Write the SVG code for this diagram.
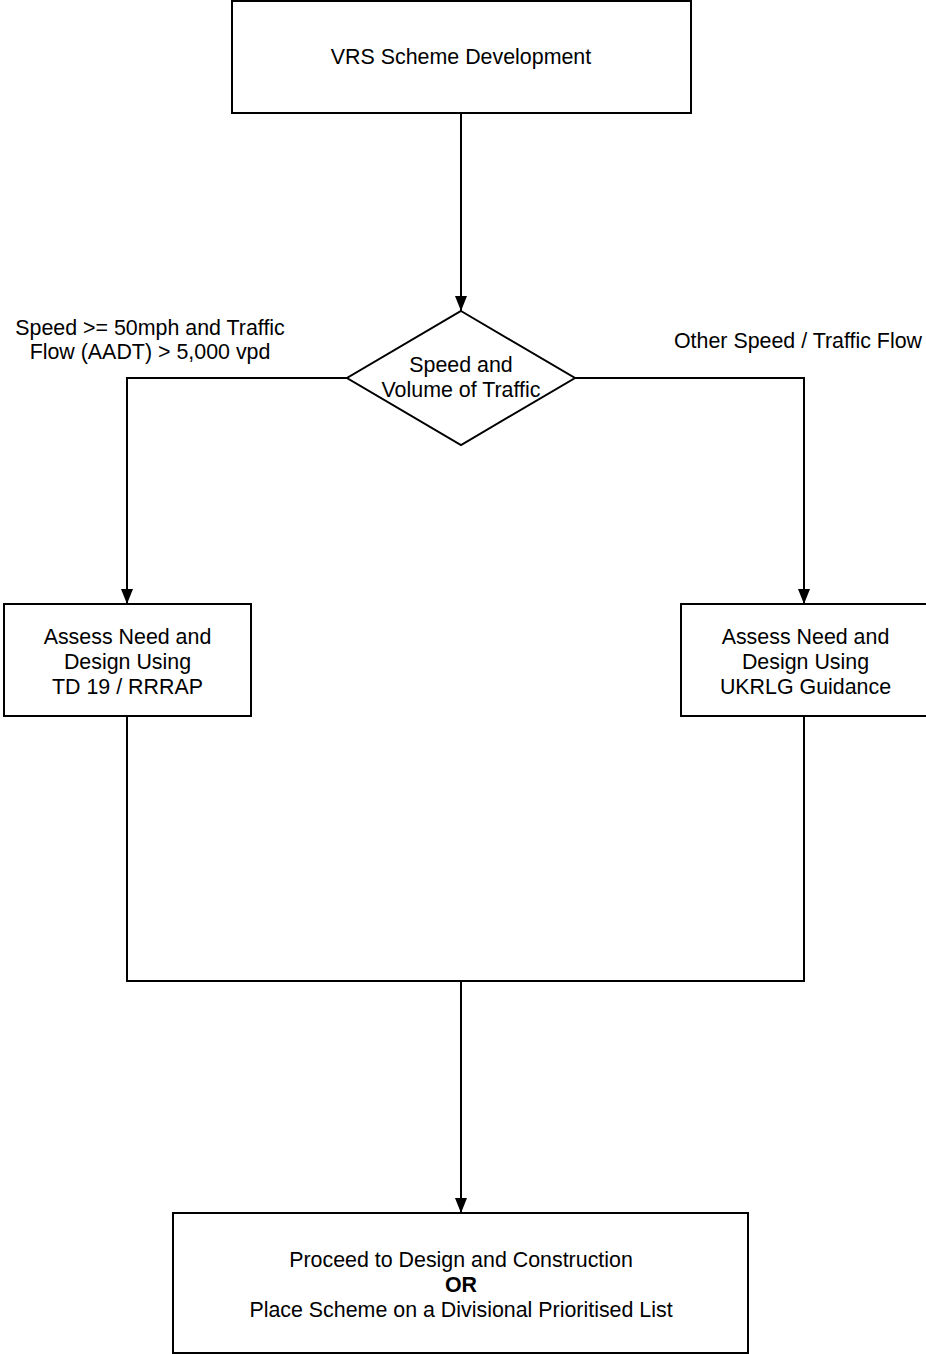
<svg xmlns="http://www.w3.org/2000/svg" width="926" height="1354" viewBox="0 0 926 1354">
<style>
.box{fill:#fff;stroke:#000;stroke-width:2}
.t{font-family:"Liberation Sans",Arial,sans-serif;font-size:21.4px;fill:#000;text-anchor:middle}
.b{font-weight:bold}
.c{fill:none;stroke:#000;stroke-width:2}
</style>
<defs>
<marker id="ah" viewBox="0 0 15 12" refX="15" refY="6" markerWidth="15" markerHeight="12" markerUnits="userSpaceOnUse" orient="auto">
<path d="M0,0 L15,6 L0,12 z" fill="#000"/>
</marker>
</defs>
<rect width="926" height="1354" fill="#fff"/>
<g id="connectors">
<line class="c" x1="461" y1="113" x2="461" y2="311" marker-end="url(#ah)"/>
<polyline class="c" points="347,378 127,378 127,604" marker-end="url(#ah)"/>
<polyline class="c" points="575,378 804,378 804,604" marker-end="url(#ah)"/>
<polyline class="c" points="127,716 127,981 804,981 804,716"/>
<line class="c" x1="461" y1="981" x2="461" y2="1213" marker-end="url(#ah)"/>
</g>
<g id="labels">
<text class="t" x="150" y="335">Speed &gt;= 50mph and Traffic</text>
<text class="t" x="150" y="359">Flow (AADT) &gt; 5,000 vpd</text>
<text class="t" x="798" y="348">Other Speed / Traffic Flow</text>
</g>
<g id="start">
<rect class="box" x="232" y="1" width="459" height="112"/>
<text class="t" x="461" y="64">VRS Scheme Development</text>
</g>
<g id="decision">
<polygon class="box" points="461,311 575,378 461,445 347,378"/>
<text class="t" x="461" y="372">Speed and</text>
<text class="t" x="461" y="397">Volume of Traffic</text>
</g>
<g id="assess-td19">
<rect class="box" x="4" y="604" width="247" height="112"/>
<text class="t" x="127.5" y="644">Assess Need and</text>
<text class="t" x="127.5" y="669">Design Using</text>
<text class="t" x="127.5" y="694">TD 19 / RRRAP</text>
</g>
<g id="assess-ukrlg">
<rect class="box" x="681" y="604" width="247" height="112"/>
<text class="t" x="805.5" y="644">Assess Need and</text>
<text class="t" x="805.5" y="669">Design Using</text>
<text class="t" x="805.5" y="694">UKRLG Guidance</text>
</g>
<g id="proceed">
<rect class="box" x="173" y="1213" width="575" height="140"/>
<text class="t" x="461" y="1267">Proceed to Design and Construction</text>
<text class="t b" x="461" y="1292">OR</text>
<text class="t" x="461" y="1317">Place Scheme on a Divisional Prioritised List</text>
</g>
</svg>
